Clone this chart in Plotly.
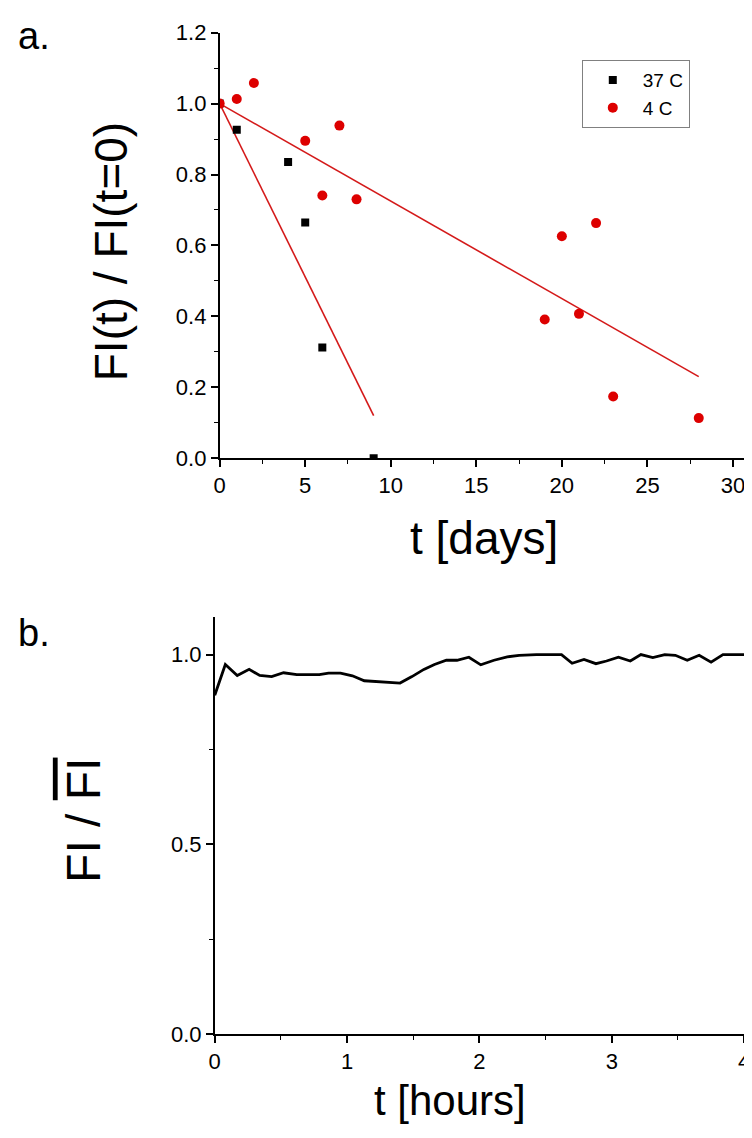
import plotly.graph_objects as go

# ---- panel a data ----
days_37 = [0, 1, 4, 5, 6, 9]
vals_37 = [1.0, 0.926, 0.835, 0.665, 0.312, 0.0]
days_4 = [0, 1, 2, 5, 6, 7, 8, 19, 20, 21, 22, 23, 28]
vals_4 = [1.0, 1.013, 1.058, 0.895, 0.741, 0.938, 0.730, 0.391, 0.626, 0.407, 0.663, 0.174, 0.113]
fit37_x = [0, 9]
fit37_y = [1.0, 0.12]
fit4_x = [0, 28]
fit4_y = [1.0, 0.23]

# ---- panel b data ----
hours = [0.0, 0.08, 0.17, 0.26, 0.34, 0.43, 0.52, 0.62, 0.79, 0.86, 0.95, 1.04, 1.13, 1.21,
         1.31, 1.40, 1.49, 1.58, 1.66, 1.75, 1.83, 1.92, 2.01, 2.11, 2.21, 2.30, 2.43, 2.62,
         2.70, 2.79, 2.88, 2.96, 3.05, 3.14, 3.22, 3.31, 3.40, 3.48, 3.57, 3.66, 3.75, 3.84, 4.0]
fi_ratio = [0.893, 0.974, 0.945, 0.961, 0.945, 0.942, 0.952, 0.947, 0.947, 0.951, 0.951, 0.944,
            0.931, 0.929, 0.927, 0.925, 0.942, 0.961, 0.974, 0.985, 0.985, 0.993, 0.973, 0.985,
            0.994, 0.998, 1.0, 1.0, 0.977, 0.987, 0.976, 0.983, 0.993, 0.983, 1.0, 0.992, 1.0,
            0.998, 0.985, 0.998, 0.98, 1.0, 1.0]

W, H = 752, 1138
FONT = "Arial, Liberation Sans, sans-serif"
RED = "#dd0000"
LRED = "#d41a1a"

def px(x):
    return x / W

def py(y):
    return 1 - y / H

fig = go.Figure()

fig.add_trace(go.Scatter(x=fit37_x, y=fit37_y, mode="lines", line=dict(color=LRED, width=1.6),
                         showlegend=False, xaxis="x", yaxis="y"))
fig.add_trace(go.Scatter(x=fit4_x, y=fit4_y, mode="lines", line=dict(color=LRED, width=1.6),
                         showlegend=False, xaxis="x", yaxis="y"))
fig.add_trace(go.Scatter(x=days_37, y=vals_37, mode="markers", name="37 C",
                         marker=dict(symbol="square", size=8, color="black"),
                         xaxis="x", yaxis="y"))
fig.add_trace(go.Scatter(x=days_4, y=vals_4, mode="markers", name="4 C",
                         marker=dict(symbol="circle", size=10, color=RED),
                         xaxis="x", yaxis="y"))
fig.add_trace(go.Scatter(x=hours, y=fi_ratio, mode="lines", line=dict(color="black", width=2.8),
                         showlegend=False, xaxis="x2", yaxis="y2"))

axis_common = dict(showline=True, linecolor="black", linewidth=1.6, mirror=False,
                   showgrid=False, zeroline=False, ticks="outside", tickcolor="black",
                   tickwidth=1.6, ticklen=7, tickfont=dict(family=FONT, size=22, color="black"))

fig.update_layout(
    width=W, height=H,
    margin=dict(l=0, r=0, t=0, b=0),
    paper_bgcolor="white", plot_bgcolor="white",
    xaxis=dict(domain=[px(209), px(748)], range=[0, 31], dtick=5, tick0=0,
               anchor="y",
               minor=dict(ticks="outside", ticklen=4, tickwidth=1.4, tickcolor="black", dtick=2.5, tick0=0),
               **axis_common),
    yaxis=dict(domain=[py(448), py(13)], range=[0, 1.2], dtick=0.2, tick0=0, tickformat=".1f",
               anchor="x",
               minor=dict(ticks="outside", ticklen=4, tickwidth=1.4, tickcolor="black", dtick=0.1, tick0=0),
               **axis_common),
    xaxis2=dict(domain=[px(204), px(742)], range=[0, 4], dtick=1, tick0=0,
                anchor="y2",
                minor=dict(ticks="outside", ticklen=4, tickwidth=1.4, tickcolor="black", dtick=0.5, tick0=0),
                **axis_common),
    yaxis2=dict(domain=[py(1037), py(610)], range=[0, 1.1], dtick=0.5, tick0=0, tickformat=".1f",
                anchor="x2",
                minor=dict(ticks="outside", ticklen=4, tickwidth=1.4, tickcolor="black", dtick=0.25, tick0=0),
                **axis_common),
    legend=dict(x=px(577), y=py(41), xanchor="left", yanchor="top",
                bordercolor="#808080", borderwidth=1, bgcolor="white",
                font=dict(family=FONT, size=19, color="black"),
                itemwidth=50, tracegroupgap=0),
    showlegend=True,
)

annots = [
    dict(text="a.", x=px(2), y=py(40), xanchor="left", yanchor="bottom", font=dict(size=38)),
    dict(text="b.", x=px(2), y=py(650), xanchor="left", yanchor="bottom", font=dict(size=38)),
    dict(text="FI(t) / FI(t=0)", x=px(98), y=py(237), textangle=-90, xanchor="center",
         yanchor="middle", font=dict(size=46)),
    dict(text="t [days]", x=px(478), y=py(530), xanchor="center", yanchor="middle", font=dict(size=46)),
    dict(text="FI / <span style='text-decoration:overline'>FI</span>", x=px(70), y=py(818),
         textangle=-90, xanchor="center", yanchor="middle", font=dict(size=48)),
    dict(text="t [hours]", x=px(443), y=py(1105), xanchor="center", yanchor="middle", font=dict(size=42)),
]
for a in annots:
    a["font"]["family"] = FONT
    a["font"]["color"] = "black"
    fig.add_annotation(xref="paper", yref="paper", showarrow=False, **a)

fig.write_html("out.html")
